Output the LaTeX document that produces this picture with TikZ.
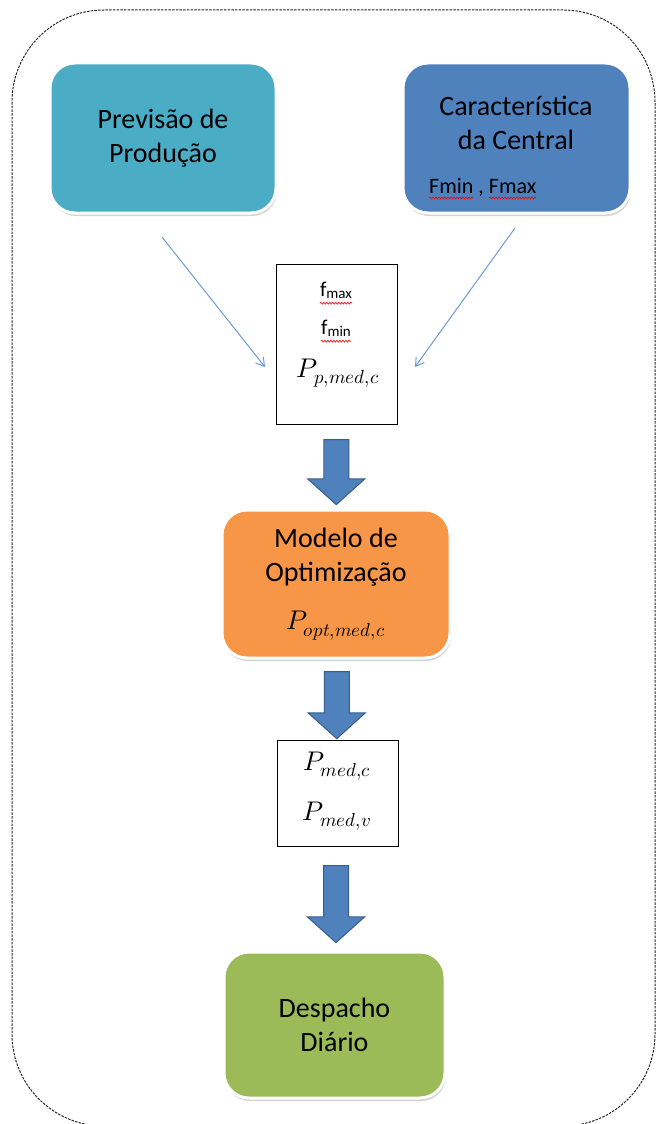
\documentclass[tikz,border=0pt]{standalone}
\usepackage{fontspec}
\usepackage{unicode-math}
\setmainfont{Carlito}
\usetikzlibrary{calc,arrows.meta,positioning,shapes.arrows,shadows,decorations.pathmorphing}

\definecolor{prevcol}{RGB}{75,172,198}
\definecolor{centcol}{RGB}{79,129,189}
\definecolor{optcol}{RGB}{247,150,70}
\definecolor{despcol}{RGB}{155,187,89}
\definecolor{arrowline}{RGB}{56,93,138}
\definecolor{thincol}{RGB}{106,155,216}

\tikzset{
  block/.style={rounded corners=25pt, draw=white, line width=3pt, align=center,
    font=\fontsize{28}{34}\selectfont,
    drop shadow={shadow xshift=1pt, shadow yshift=-3pt, opacity=.35}},
  databox/.style={draw=black, line width=1pt, fill=white},
  bigarrow/.style={single arrow, shape border rotate=270, draw=arrowline, fill=centcol,
    line width=1pt, minimum width=56pt, single arrow head extend=16pt,
    single arrow tip angle=96, inner sep=12pt},
  thinarrow/.style={-{Straight Barb[length=8pt,width=10pt]}, draw=thincol, line width=1pt},
  wavy/.style={red, line width=0.6pt, decorate, decoration={snake, amplitude=1pt, segment length=3pt}},
  smalltxt/.style={inner sep=0pt, font=\fontsize{21}{24}\selectfont},
}

\newcommand{\mathtxt}[1]{{\fontsize{27}{30}\selectfont $#1$}}
\newcommand{\lowtxt}[1]{\raisebox{-2pt}{\fontsize{15}{18}\selectfont #1}}

\begin{document}
\begin{tikzpicture}[x=1pt,y=-1pt]
\useasboundingbox (0,0) rectangle (657,1124);

%% outer frame
\draw[line width=1pt, dash pattern=on 2.5pt off 1.2pt, black!85, rounded corners=92pt] (12,10) rectangle (655,1126);

%% top row
\node[block, fill=prevcol, minimum width=226pt, minimum height=150pt] (prev) at (163,138) {Previsão de\\Produção};
\node[block, fill=centcol, minimum width=227pt, minimum height=150pt] (cent) at (516.5,138) {};
\node[align=center, font=\fontsize{28}{34}\selectfont] (centtxt) at (516,123) {Característica\\da Central};
\node[inner sep=0pt, anchor=base west, font=\fontsize{22}{26}\selectfont] (fmm) at (429,193) {Fmin , Fmax};
\draw[wavy] ($(fmm.base west)+(0,5)$) -- ++(44,0);
\draw[wavy] ($(fmm.base west)+(60,5)$) -- ++(47,0);

%% limits box
\node[databox, minimum width=121pt, minimum height=160pt] (lim) at (336.5,344) {};
\node[smalltxt] (fmx) at (336,290) {f\lowtxt{max}};
\node[smalltxt] (fmn) at (336,328) {f\lowtxt{min}};
\node (ppm) at (338,373) {\mathtxt{P_{p,med,c}}};
\draw[wavy] ($(fmx.base west)+(0,7)$) -- ($(fmx.base east)+(0,7)$);
\draw[wavy] ($(fmn.base west)+(0,7)$) -- ($(fmn.base east)+(0,7)$);

\coordinate (s1) at (162,237);
\coordinate (e1) at (265,367);
\coordinate (s2) at (515,228);
\coordinate (e2) at (415,367);
\draw[thinarrow] (s1) -- (e1);
\draw[thinarrow] (s2) -- (e2);

%% optimisation model
\node[block, fill=optcol, minimum width=228pt, minimum height=148pt] (opt) at (336,584)
  {Modelo de\\Optimização\\[14pt]\mathtxt{P_{opt,med,c}}};
\node[bigarrow, minimum height=65pt] (ar1) at ($(lim.south)!.5!(opt.north)$) {};

%% results box
\node[databox, minimum width=121pt, minimum height=106pt] (res) at (337.5,793) {};
\node (pmc) at (337,766) {\mathtxt{P_{med,c}}};
\node (pmv) at (337,816) {\mathtxt{P_{med,v}}};
\node[bigarrow, minimum height=67pt] (ar2) at ($(opt.south)!.5!(res.north)$) {};

%% dispatch
\node[block, fill=despcol, minimum width=221pt, minimum height=146pt] (desp) at (334.5,1025) {Despacho\\Diário};
\node[bigarrow, minimum height=77pt] (ar3) at ($(res.south)!.5!(desp.north)$) {};
\end{tikzpicture}
\end{document}
